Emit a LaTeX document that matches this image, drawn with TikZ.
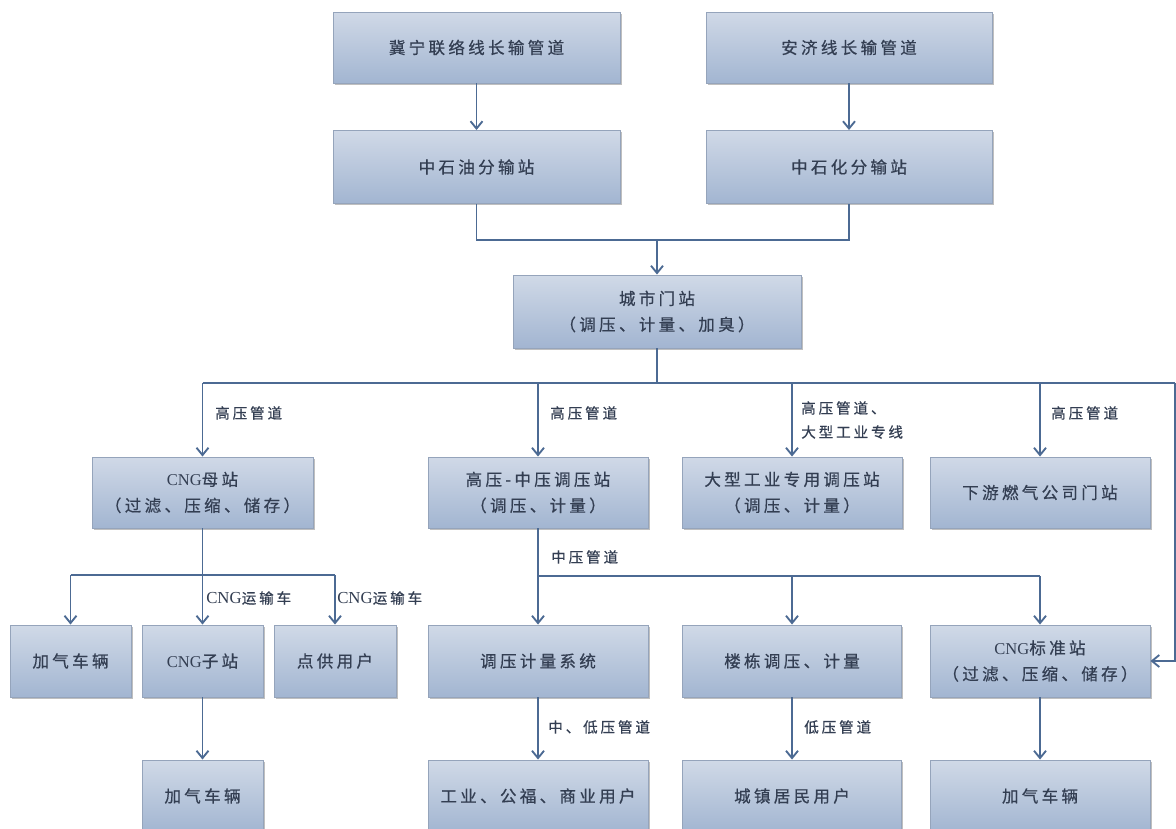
\documentclass[tikz,border=0pt]{standalone}
\usepackage{fontspec}
\setmainfont{Liberation Serif}
\newfontfamily\cjk[LetterSpace=20,FakeBold=0.6]{Noto Sans CJK SC}
\usetikzlibrary{arrows.meta,shadows,shadings}
\definecolor{boxtop}{HTML}{D0D9E7}
\definecolor{boxbot}{HTML}{A2B5D1}
\definecolor{boxline}{HTML}{95A4BB}
\definecolor{txtcol}{HTML}{333E52}
\definecolor{linecol}{HTML}{4C6A93}
\newcommand\latn[1]{{\rmfamily #1}}
\newcommand\latbig[1]{{\rmfamily\fontsize{12.6}{18}\selectfont #1}}
\begin{document}
\begin{tikzpicture}[x=0.75pt,y=-0.75pt,
  box/.style={draw=boxline, line width=0.7pt, top color=boxtop, bottom color=boxbot,
    text=txtcol, align=center, inner sep=0pt,
    font=\cjk\fontsize{12.4}{19.5}\selectfont,
    drop shadow={shadow xshift=1.2pt, shadow yshift=-1.2pt, fill=black, opacity=0.25}},
  bx/.style 2 args={minimum width=#1*0.75pt, minimum height=#2*0.75pt},
  pipe/.style={draw=linecol, line width=1.4pt},
  conn/.style={draw=linecol, line width=1.4pt, -{Straight Barb[length=5.5pt,width=9pt]}},
  lbl/.style={text=txtcol, anchor=west, align=left, inner sep=0pt,
    font=\cjk\fontsize{10.9}{18}\selectfont}]
\fill[white] (0,0) rectangle (1176,828);
\useasboundingbox (0,0) rectangle (1176,828);
\clip (0,0) rectangle (1176,828);

% row 1 and 2
\node[box,bx={287}{71}] (A1) at (476.5,47.5) {冀宁联络线长输管道};
\node[box,bx={286}{71}] (A2) at (849,47.5) {安济线长输管道};
\node[box,bx={287}{73}] (B1) at (476.5,167) {中石油分输站};
\node[box,bx={286}{73}] (B2) at (849,167) {中石化分输站};
\node[box,bx={288}{73}] (C) at (657,311.5) {城市门站\\（调压、计量、加臭）};

% row 3
\node[box,bx={221}{71}] (D1) at (202.5,492.5) {\latn{CNG}母站\\（过滤、压缩、储存）};
\node[box,bx={220}{71}] (D2) at (538,492.5) {高压-中压调压站\\（调压、计量）};
\node[box,bx={220}{71}] (D3) at (792,492.5) {大型工业专用调压站\\（调压、计量）};
\node[box,bx={220}{71}] (D4) at (1040,492.5) {下游燃气公司门站};

% row 4
\node[box,bx={121}{72}] (E1) at (70.5,661) {加气车辆};
\node[box,bx={121}{72}] (E2) at (202.5,661) {\latn{CNG}子站};
\node[box,bx={122}{72}] (E3) at (335,661) {点供用户};
\node[box,bx={220}{72}] (E4) at (538,661) {调压计量系统};
\node[box,bx={219}{72}] (E5) at (792,661) {楼栋调压、计量};
\node[box,bx={220}{72}] (E6) at (1040,661) {\latn{CNG}标准站\\（过滤、压缩、储存）};

% row 5
\node[box,bx={121}{72}] (F1) at (202.5,796) {加气车辆};
\node[box,bx={220}{72}] (F2) at (538,796) {工业、公福、商业用户};
\node[box,bx={219}{72}] (F3) at (792,796) {城镇居民用户};
\node[box,bx={220}{72}] (F4) at (1040,796) {加气车辆};

% top connectors
\draw[conn] (A1) -- (B1);
\draw[conn] (A2) -- (B2);
\coordinate (j1) at (657,240);
\draw[pipe] (B1.south) |- (j1) -| (B2.south);
\draw[conn] (j1) -- (C.north);

% city gate distribution
\coordinate (hub) at (657,383);
\coordinate (rc) at (1175,383);
\draw[pipe] (C.south) -- (hub);
\draw[pipe] (D1.north |- hub) -- (rc);
\draw[conn] (D1.north |- hub) -- (D1.north);
\draw[conn] (D2.north |- hub) -- (D2.north);
\draw[conn] (D3.north |- hub) -- (D3.north);
\draw[conn] (D4.north |- hub) -- (D4.north);
\draw[conn] (rc) |- (E6.east);

\node[lbl] (L1) at (215,413) {高压管道};
\node[lbl] (L2) at (550,413) {高压管道};
\node[lbl] (L3) at (801,420) {高压管道、\\大型工业专线};
\node[lbl] (L4) at (1051,413) {高压管道};

% CNG mother station
\coordinate (j2) at (202.5,575);
\draw[pipe] (D1.south) -- (j2);
\draw[pipe] (E1.north |- j2) -- (E3.north |- j2);
\draw[conn] (E1.north |- j2) -- (E1.north);
\draw[conn] (j2) -- (E2.north);
\draw[conn] (E3.north |- j2) -- (E3.north);
\node[lbl] (L5) at (206,598) {\latbig{CNG}运输车};
\node[lbl] (L6) at (337,598) {\latbig{CNG}运输车};
\draw[conn] (E2) -- (F1);

% medium pressure
\coordinate (j3) at (538,576);
\draw[pipe] (j3) -- (E6.north |- j3);
\draw[conn] (D2.south) -- (E4.north);
\draw[conn] (E5.north |- j3) -- (E5.north);
\draw[conn] (E6.north |- j3) -- (E6.north);
\node[lbl] (L7) at (551,557) {中压管道};

\draw[conn] (E4) -- (F2);
\draw[conn] (E5) -- (F3);
\draw[conn] (E6) -- (F4);
\node[lbl] (L8) at (548,727) {中、低压管道};
\node[lbl] (L9) at (804,727) {低压管道};
\end{tikzpicture}
\end{document}
